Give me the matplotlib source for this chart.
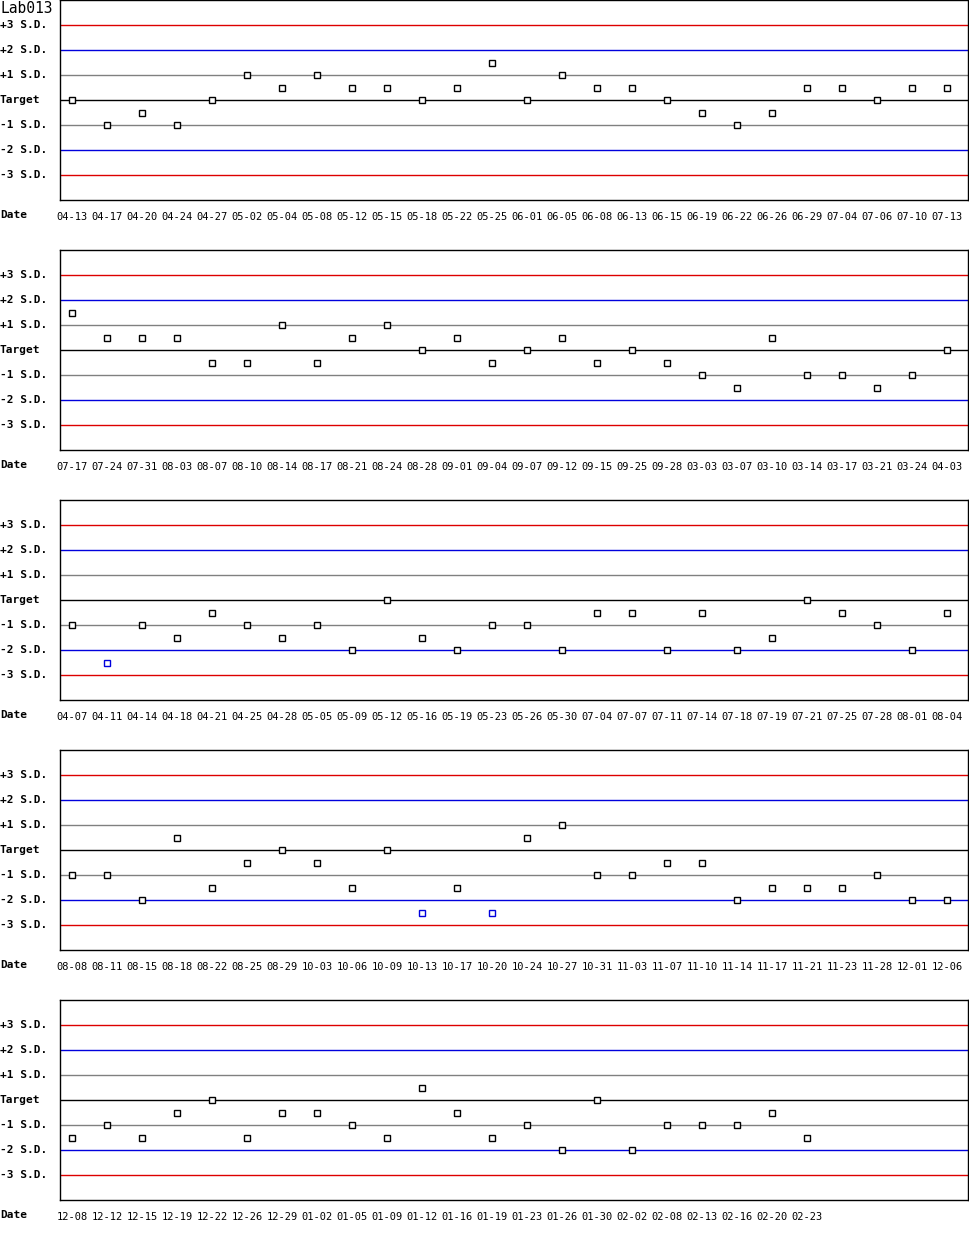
import matplotlib
matplotlib.use("Agg")
import matplotlib.pyplot as plt

# dates and values (in S.D. units) for each row of the chart
dates_1 = ["04-13", "04-17", "04-20", "04-24", "04-27", "05-02", "05-04", "05-08", "05-12",
           "05-15", "05-18", "05-22", "05-25", "06-01", "06-05", "06-08", "06-13", "06-15",
           "06-19", "06-22", "06-26", "06-29", "07-04", "07-06", "07-10", "07-13"]
values_1 = [0, -1, -0.5, -1, 0, 1, 0.5, 1, 0.5, 0.5, 0, 0.5, 1.5, 0, 1, 0.5, 0.5, 0,
            -0.5, -1, -0.5, 0.5, 0.5, 0, 0.5, 0.5]

dates_2 = ["07-17", "07-24", "07-31", "08-03", "08-07", "08-10", "08-14", "08-17", "08-21",
           "08-24", "08-28", "09-01", "09-04", "09-07", "09-12", "09-15", "09-25", "09-28",
           "03-03", "03-07", "03-10", "03-14", "03-17", "03-21", "03-24", "04-03"]
values_2 = [1.5, 0.5, 0.5, 0.5, -0.5, -0.5, 1, -0.5, 0.5, 1, 0, 0.5, -0.5, 0, 0.5, -0.5,
            0, -0.5, -1, -1.5, 0.5, -1, -1, -1.5, -1, 0]

dates_3 = ["04-07", "04-11", "04-14", "04-18", "04-21", "04-25", "04-28", "05-05", "05-09",
           "05-12", "05-16", "05-19", "05-23", "05-26", "05-30", "07-04", "07-07", "07-11",
           "07-14", "07-18", "07-19", "07-21", "07-25", "07-28", "08-01", "08-04"]
values_3 = [-1, -2.5, -1, -1.5, -0.5, -1, -1.5, -1, -2, 0, -1.5, -2, -1, -1, -2, -0.5,
            -0.5, -2, -0.5, -2, -1.5, 0, -0.5, -1, -2, -0.5]

dates_4 = ["08-08", "08-11", "08-15", "08-18", "08-22", "08-25", "08-29", "10-03", "10-06",
           "10-09", "10-13", "10-17", "10-20", "10-24", "10-27", "10-31", "11-03", "11-07",
           "11-10", "11-14", "11-17", "11-21", "11-23", "11-28", "12-01", "12-06"]
values_4 = [-1, -1, -2, 0.5, -1.5, -0.5, 0, -0.5, -1.5, 0, -2.5, -1.5, -2.5, 0.5, 1, -1,
            -1, -0.5, -0.5, -2, -1.5, -1.5, -1.5, -1, -2, -2]

dates_5 = ["12-08", "12-12", "12-15", "12-19", "12-22", "12-26", "12-29", "01-02", "01-05",
           "01-09", "01-12", "01-16", "01-19", "01-23", "01-26", "01-30", "02-02", "02-08",
           "02-13", "02-16", "02-20", "02-23"]
values_5 = [-1.5, -1, -1.5, -0.5, 0, -1.5, -0.5, -0.5, -1, -1.5, 0.5, -0.5, -1.5, -1, -2,
            0, -2, -1, -1, -1, -0.5, -1.5]

rows = [(dates_1, values_1), (dates_2, values_2), (dates_3, values_3),
        (dates_4, values_4), (dates_5, values_5)]

sd_levels = [3, 2, 1, 0, -1, -2, -3]
sd_labels = ["+3 S.D.", "+2 S.D.", "+1 S.D.", "Target", "-1 S.D.", "-2 S.D.", "-3 S.D."]
line_colors = {3: "#dd0000", 2: "#0000dd", 1: "#808080", 0: "black",
               -1: "#808080", -2: "#0000dd", -3: "#dd0000"}

W, H = 970, 1250
fig = plt.figure(figsize=(W / 100, H / 100), dpi=100)
mono = "DejaVu Sans Mono"

ax_left, ax_width = 60, 908
ax_height = 200
step = 35       # pixels between points
first = 12      # offset of first point from left edge

for r, (dates, vals) in enumerate(rows):
    top = 250 * r
    ax = fig.add_axes([ax_left / W, (H - top - ax_height) / H, ax_width / W, ax_height / H])
    ax.set_xlim(-first / step, (ax_width - first) / step)
    ax.set_ylim(-4, 4)
    for lvl in sd_levels:
        ax.axhline(lvl, color=line_colors[lvl], lw=1, zorder=1)
    xs = list(range(len(vals)))
    cols = ["#0000dd" if abs(v) > 2 else "black" for v in vals]
    for x, v, c in zip(xs, vals, cols):
        ax.plot(x, v, marker="s", ms=5, mfc="white", mec=c, mew=1, ls="none", zorder=3)
    ax.set_yticks([])
    ax.set_xticks(xs)
    ax.set_xticklabels(dates, family=mono, fontsize=7.5)
    ax.tick_params(axis="x", length=0, pad=9)
    for s in ax.spines.values():
        s.set_linewidth(1)
        s.set_color("black")

    # left-hand labels
    for lvl, lab in zip(sd_levels, sd_labels):
        ypix = top + 100 - 25 * lvl
        fig.text(0, 1 - ypix / H, lab, family=mono, fontsize=8, fontweight="bold",
                 ha="left", va="center")
    fig.text(0, 1 - (top + 215) / H, "Date", family=mono, fontsize=8, fontweight="bold",
             ha="left", va="center")

fig.text(0, 1 - 1 / H, "Lab013", family=mono, fontsize=10.5, ha="left", va="top")

fig.savefig("out.png", dpi=100)
